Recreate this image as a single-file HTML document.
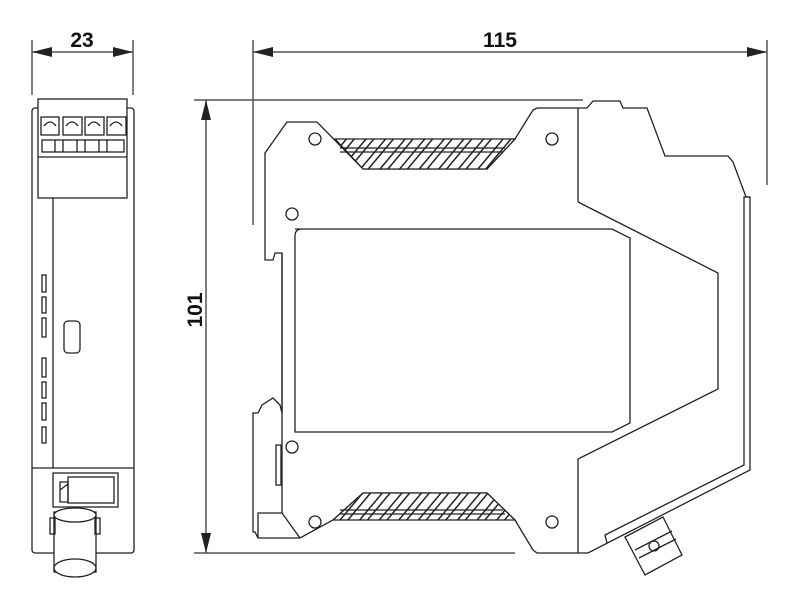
<!DOCTYPE html>
<html><head><style>html,body{margin:0;padding:0;background:#fff}svg{display:block}</style></head>
<body>
<svg width="800" height="600" viewBox="0 0 800 600" xmlns="http://www.w3.org/2000/svg">
<defs>
<pattern id="h" width="15" height="15" patternUnits="userSpaceOnUse" patternTransform="rotate(40)">
<rect width="15" height="15" fill="#fff"/><rect width="1.5" height="15" fill="#222"/><rect x="9" width="1.5" height="15" fill="#222"/></pattern>
</defs>
<g fill="none" stroke="#222" stroke-width="1.3">
<g stroke="#555" stroke-width="1.5">
<line x1="32" y1="40" x2="32" y2="95"/><line x1="133" y1="40" x2="133" y2="95"/>
<line x1="32" y1="52" x2="133" y2="52"/>
<line x1="253" y1="40" x2="253" y2="225"/><line x1="767" y1="40" x2="767" y2="185"/>
<line x1="253" y1="52" x2="767" y2="52"/>
<line x1="194" y1="100" x2="583" y2="100"/><line x1="194" y1="553" x2="515" y2="553"/>
<line x1="206" y1="100" x2="206" y2="553"/>
</g>
<g fill="#222" stroke="none">
<polygon points="32,52 52,47 52,57"/><polygon points="133,52 113,47 113,57"/>
<polygon points="253,52 273,47 273,57"/><polygon points="767,52 747,47 747,57"/>
<polygon points="206,100 201,120 211,120"/><polygon points="206,553 201,533 211,533"/>
</g>
<rect x="32" y="108" width="102" height="445" rx="3"/>
<rect x="38" y="99" width="89" height="99" fill="#fff"/>
<line x1="38" y1="157" x2="127" y2="157"/>
<rect x="41" y="117" width="18" height="18"/><rect x="63" y="117" width="19" height="18"/>
<rect x="85" y="117" width="19" height="18"/><rect x="107" y="117" width="19" height="18"/>
<path d="M44 126 q6 -8 12 0 M66 126 q6 -8 12 0 M88 126 q6 -8 12 0 M110 126 q6 -8 12 0"/>
<rect x="42" y="140" width="82" height="12"/>
<path d="M55 140v12M63 140v12M77 140v12M85 140v12M99 140v12M107 140v12"/>
<line x1="53" y1="198" x2="53" y2="468"/><line x1="32" y1="468" x2="134" y2="468"/>
<g>
<rect x="42" y="275" width="4" height="17"/><rect x="42" y="297" width="4" height="16"/>
<rect x="42" y="318" width="4" height="19"/><rect x="42" y="358" width="4" height="19"/>
<rect x="42" y="382" width="4" height="16"/><rect x="42" y="403" width="4" height="17"/>
<rect x="42" y="427" width="4" height="16"/>
</g>
<rect x="64" y="321" width="16" height="32" rx="4"/>
<rect x="53" y="473" width="65" height="34"/>
<rect x="68" y="477" width="46" height="26"/>
<path d="M60 482h8v20h-8z M60 490l8 -6"/>
<rect x="54" y="512" width="42" height="60" fill="#fff"/>
<ellipse cx="75" cy="515" rx="21" ry="7" fill="#fff"/>
<ellipse cx="75" cy="568" rx="21" ry="9" fill="#fff"/>
<rect x="50" y="518" width="5" height="16"/><rect x="95" y="518" width="5" height="16"/>
<path d="M287 122 L317 122 L363 169 L487 169 L515 139 L533 110 L537 108 L587 108 L593 101 L620 101 L623 108 L647 108 L665 156 L728 156 L733 162 L746 197 L750 197 L750 470 L588 553 L537 553 L533 550 L515 520 L487 493 L363 493 L333 520 L300 538 L258 538 L255 532 L253 532 L253 413 L258 413 L262 405 L273 398 L280 405 L282 413 L282 253 L275 253 L273 260 L265 260 L265 153 Z" fill="#fff"/>
<path d="M335 139 L515 139 L487 169 L363 169 Z" fill="url(#h)"/>
<path d="M333 520 L515 520 L487 493 L363 493 Z" fill="url(#h)"/>
<line x1="340" y1="148" x2="505" y2="148"/><line x1="340" y1="152" x2="503" y2="152"/>
<line x1="340" y1="514" x2="505" y2="514"/><line x1="340" y1="510" x2="503" y2="510"/>
<line x1="282" y1="253" x2="282" y2="513"/>
<path d="M258 538 L258 513 L282 513 L300 538"/>
<rect x="276" y="445" width="5" height="40"/>
<line x1="578" y1="108" x2="578" y2="202"/>
<path d="M578 202 L718 273 L718 389 L578 459 L578 553"/>
<path d="M295 229 H612 L630 238 V423 L612 432 H295 Q295 432 295 425 V236 Q295 229 302 229 Z"/>
<path d="M750 197 L744 197 L744 465 L605 535 L607 543"/>
<g>
<circle cx="315" cy="139" r="6"/><circle cx="552" cy="139" r="6"/>
<circle cx="292" cy="214" r="6"/><circle cx="292" cy="447" r="6"/>
<circle cx="315" cy="522" r="6"/><circle cx="552" cy="522" r="6"/>
</g>
<path d="M625 537 L663 517 L682 555 L645 575 Z" fill="#fff"/>
<circle cx="654" cy="546" r="5"/><path d="M635 550 L672 531 M639 558 L676 539"/>
</g>
<g font-family="Liberation Sans, sans-serif" font-weight="bold" font-size="21" fill="#111" text-anchor="middle">
<text x="82" y="47">23</text>
<text x="500" y="47">115</text>
<text transform="translate(202,310) rotate(-90)">101</text>
</g>
</svg>
</body></html>
